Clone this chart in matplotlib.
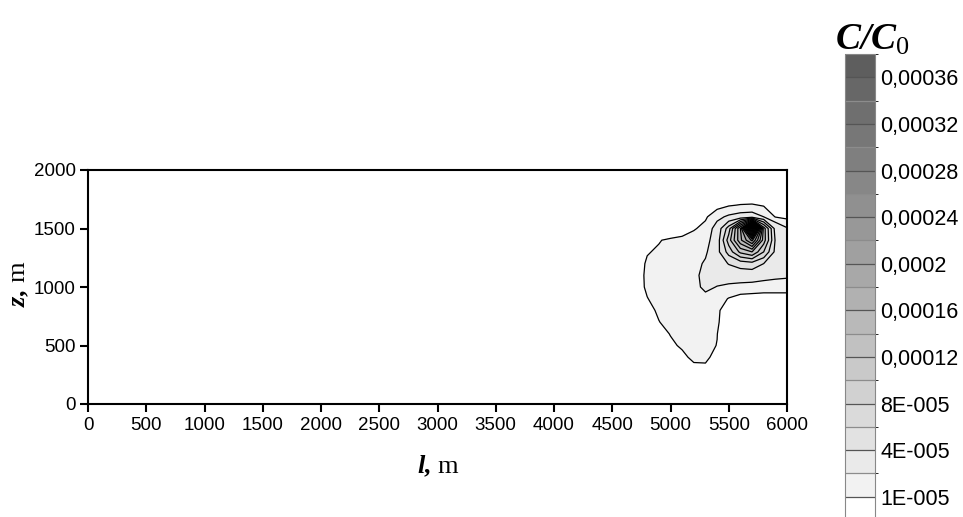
import numpy as np
import matplotlib
matplotlib.use("Agg")
import matplotlib.pyplot as plt
from matplotlib.colors import ListedColormap, BoundaryNorm

plt.rcParams['font.family'] = 'Liberation Sans'
plt.rcParams['mathtext.fontset'] = 'custom'
plt.rcParams['mathtext.rm'] = 'Liberation Serif'
plt.rcParams['mathtext.it'] = 'Liberation Serif:italic'
plt.rcParams['mathtext.bf'] = 'Liberation Serif:italic:bold'

# C/C0, in units of 1e-5, on a 100 m grid round the plume
l_nodes = [4600, 4700, 4800, 4900, 5000, 5100, 5200, 5300, 5400, 5500, 5600, 5700, 5800, 5900, 6000]
z_nodes = [200, 300, 400, 500, 600, 700, 800, 900, 1000, 1100, 1200, 1300, 1400, 1500, 1600, 1700, 1800, 1900]
conc = [
    [0, 0, 0, 0, 0, 0, 0, 0, 0, 0, 0, 0, 0, 0, 0],                                  # 200
    [0, 0, 0, 0, 0, 0.2, 0.7, 0.75, 0.2, 0, 0, 0, 0, 0, 0],                         # 300
    [0, 0, 0, 0, 0.3, 0.75, 1.25, 1.25, 0.6, 0, 0, 0, 0, 0, 0],                     # 400
    [0, 0, 0, 0.2, 0.8, 1.15, 1.2, 1.2, 0.98, 0.1, 0, 0, 0, 0, 0],                  # 500
    [0, 0, 0, 0.6, 1.05, 1.25, 1.3, 1.3, 1.02, 0.2, 0, 0, 0, 0, 0],                 # 600
    [0, 0, 0.4, 0.98, 1.2, 1.3, 1.35, 1.35, 1.15, 0.3, 0, 0, 0, 0, 0],              # 700
    [0, 0.2, 0.8, 1.1, 1.25, 1.35, 1.45, 1.45, 1.2, 0.4, 0.1, 0, 0, 0, 0],          # 800
    [0, 0.5, 0.98, 1.2, 1.3, 1.4, 1.5, 1.6, 1.4, 0.95, 0.7, 0.65, 0.6, 0.6, 0.6],   # 900
    [0.15, 0.7, 1.1, 1.2, 1.25, 1.35, 1.6, 2.3, 1.95, 1.7, 1.5, 1.45, 1.4, 1.4, 1.4],  # 1000
    [0.2, 0.75, 1.1, 1.2, 1.25, 1.3, 1.6, 2.5, 2.6, 2.8, 2.9, 2.8, 2.5, 2.3, 2.2],  # 1100
    [0.1, 0.6, 1.1, 1.2, 1.25, 1.3, 1.5, 2.2, 3.0, 4.1, 4.8, 5.2, 4.0, 3.2, 3.0],   # 1200
    [0, 0.3, 0.95, 1.1, 1.2, 1.3, 1.4, 1.75, 3.3, 6.8, 10.5, 12, 8, 3.5, 3.0],      # 1300
    [0, 0, 0.3, 0.95, 1.15, 1.3, 1.45, 1.5, 2.8, 9, 15.5, 20.5, 11, 3.8, 3.0],      # 1400
    [0, 0, 0, 0, 0.2, 0.4, 0.9, 1.3, 2.5, 7, 16, 38, 11, 3.2, 2.1],                 # 1500
    [0, 0, 0, 0, 0, 0, 0.3, 0.85, 1.7, 2.2, 2.5, 2.6, 2.0, 0.95, 0.75],             # 1600
    [0, 0, 0, 0, 0, 0, 0, 0, 0.6, 0.9, 1.05, 1.1, 0.9, 0.6, 0.5],                   # 1700
    [0, 0, 0, 0, 0, 0, 0, 0, 0, 0, 0, 0, 0, 0, 0],                                  # 1800
    [0, 0, 0, 0, 0, 0, 0, 0, 0, 0, 0, 0, 0, 0, 0],                                  # 1900
]

levels = [0, 1e-5, 2e-5, 4e-5, 6e-5, 8e-5, 1e-4, 1.2e-4, 1.4e-4, 1.6e-4, 1.8e-4, 2e-4,
          2.2e-4, 2.4e-4, 2.6e-4, 2.8e-4, 3e-4, 3.2e-4, 3.4e-4, 3.6e-4, 3.8e-4]
cb_ticks = [1e-5, 4e-5, 8e-5, 1.2e-4, 1.6e-4, 2e-4, 2.4e-4, 2.8e-4, 3.2e-4, 3.6e-4]
cb_labels = ['1E-005', '4E-005', '8E-005', '0,00012', '0,00016', '0,0002',
             '0,00024', '0,00028', '0,00032', '0,00036']
x_ticks = [0, 500, 1000, 1500, 2000, 2500, 3000, 3500, 4000, 4500, 5000, 5500, 6000]
y_ticks = [0, 500, 1000, 1500, 2000]

# full domain, blank (zero) outside the plume block
lx = np.arange(0, 6001, 100)
lz = np.arange(0, 2001, 100)
field = np.zeros((len(lz), len(lx)))
i0 = list(lz).index(z_nodes[0])
j0 = list(lx).index(l_nodes[0])
field[i0:i0 + len(z_nodes), j0:j0 + len(l_nodes)] = np.array(conc) * 1e-5

grays = [(1, 1, 1)] + [(g, g, g) for g in np.linspace(0.95, 0.37, len(levels) - 2)]
cmap = ListedColormap(grays)
norm = BoundaryNorm(levels, cmap.N)

W, H = 963, 517
fig = plt.figure(figsize=(W / 100, H / 100), dpi=100)
ax = fig.add_axes([88 / W, (H - 404) / H, (787 - 88) / W, (404 - 170) / H])

cf = ax.contourf(lx, lz, field, levels=levels, cmap=cmap, norm=norm)
ax.contour(lx, lz, field, levels=levels[1:-1], colors='black', linewidths=0.9)

ax.set_xlim(0, 6000)
ax.set_ylim(0, 2000)
ax.set_xticks(x_ticks)
ax.set_yticks(y_ticks)
ax.tick_params(direction='out', length=6, width=1.5, labelsize=13.5, pad=3)
for s in ax.spines.values():
    s.set_linewidth(1.5)

fig.text(438 / W, 1 - 466 / H, r'$\mathbf{l{,}}$ m', family='Liberation Serif',
         fontsize=19, ha='center', va='center')
fig.text(20 / W, 1 - 284 / H, r'$\mathbf{z{,}}$ m', family='Liberation Serif',
         fontsize=19, ha='center', va='center', rotation=90)

# colour bar
cax = fig.add_axes([845 / W, (H - 520) / H, 30 / W, (520 - 54) / H])
cb = fig.colorbar(cf, cax=cax, spacing='uniform', ticks=cb_ticks)
cax.set_yticklabels(cb_labels)
cax.tick_params(length=0, pad=4, labelsize=15.5)
cb.outline.set_edgecolor('#888888')
cb.outline.set_linewidth(0.8)
for lev in levels[1:-1]:
    c = '#555555' if lev in cb_ticks else '#8c8c8c'
    cax.axhline(lev, color=c, linewidth=0.9)

fig.text(835 / W, 1 - 50 / H, r'$\mathbf{C/C}_{\mathrm{0}}$', family='Liberation Serif',
         fontsize=27, ha='left', va='baseline')

fig.savefig('out.png', dpi=100)
